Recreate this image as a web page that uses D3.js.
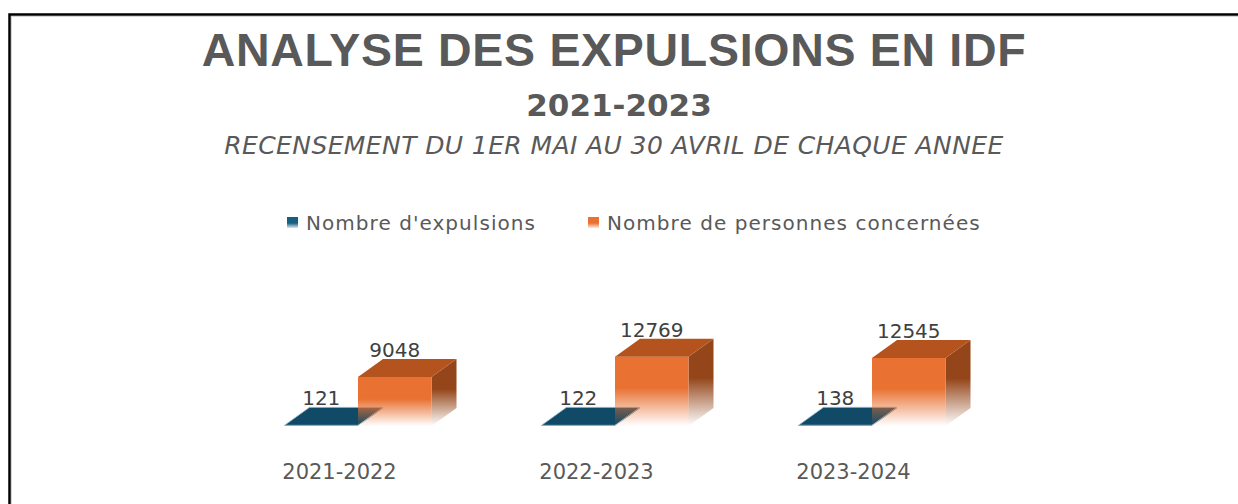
<!DOCTYPE html>
<html>
<head>
<meta charset="utf-8">
<script src="https://cdn.jsdelivr.net/npm/d3@7"></script>
<style>
  html, body { margin: 0; padding: 0; background: #fff; overflow: hidden; }
  #chart { width: 1238px; height: 504px; }
</style>
</head>
<body>
<div id="chart"></div>
<script>
// 3D clustered bars: expulsions in IDF

const categories = ["2021-2022", "2022-2023", "2023-2024"];
const seriesNames = ["Nombre d'expulsions", "Nombre de personnes concernées"];
const expulsions = [121, 122, 138];
const personnes = [9048, 12769, 12545];

const colors = {
    "Nombre d'expulsions": { front: "#156082", top: "#114a66", side: "#0d3a50" },
    "Nombre de personnes concernées": { front: "#e97132", top: "#b5531f", side: "#94461a" }
};

function drawChart() {
    const container = d3.select("#chart");
    container.selectAll("*").remove();

    const width = 1238;
    const height = 504;

    const svg = container.append("svg")
        .attr("width", width)
        .attr("height", height);

    const defs = svg.append("defs");

    // fading gradients (bars melt into the floor)
    seriesNames.forEach((s, i) => {
        ["front", "side"].forEach(face => {
            const g = defs.append("linearGradient")
                .attr("id", `grad-${i}-${face}`)
                .attr("x1", 0).attr("y1", 0).attr("x2", 0).attr("y2", 1);
            g.append("stop").attr("offset", "0%").attr("stop-color", colors[s][face]).attr("stop-opacity", 1);
            g.append("stop").attr("offset", "45%").attr("stop-color", colors[s][face]).attr("stop-opacity", 1);
            g.append("stop").attr("offset", "100%").attr("stop-color", colors[s][face]).attr("stop-opacity", 0);
        });
        const lg = defs.append("linearGradient")
            .attr("id", `grad-${i}-legend`)
            .attr("x1", 0).attr("y1", 0).attr("x2", 0).attr("y2", 1);
        lg.append("stop").attr("offset", "0%").attr("stop-color", colors[s].front).attr("stop-opacity", 1);
        lg.append("stop").attr("offset", "55%").attr("stop-color", colors[s].front).attr("stop-opacity", 1);
        lg.append("stop").attr("offset", "100%").attr("stop-color", colors[s].front).attr("stop-opacity", 0.15);
    });

    // frame
    svg.append("rect")
        .attr("x", 9.5).attr("y", 14.5)
        .attr("width", 1300).attr("height", 600)
        .attr("fill", "none")
        .attr("stroke", "#000")
        .attr("stroke-width", 2.5);
    svg.append("rect")
        .attr("x", 11.5).attr("y", 16.5)
        .attr("width", 1300).attr("height", 600)
        .attr("fill", "none")
        .attr("stroke", "#d4d4d4")
        .attr("stroke-width", 1);

    // titles
    const cx = 614;
    svg.append("text")
        .attr("x", cx).attr("y", 66)
        .attr("text-anchor", "middle")
        .style("font-family", "'Liberation Sans', Arial, sans-serif")
        .style("font-weight", "bold")
        .style("font-size", "46.5px")
        .style("letter-spacing", "0.7px")
        .style("fill", "#595959")
        .text("ANALYSE DES EXPULSIONS EN IDF");

    svg.append("text")
        .attr("x", cx + 5).attr("y", 116)
        .attr("text-anchor", "middle")
        .style("font-family", "'DejaVu Sans', sans-serif")
        .style("font-weight", "bold")
        .style("font-size", "31px")
        .style("fill", "#595959")
        .text("2021-2023");

    svg.append("text")
        .attr("x", cx).attr("y", 154)
        .attr("text-anchor", "middle")
        .style("font-family", "'DejaVu Sans', sans-serif")
        .style("font-style", "italic")
        .style("font-size", "25px")
        .style("letter-spacing", "0.4px")
        .style("fill", "#595959")
        .text("RECENSEMENT DU 1ER MAI AU 30 AVRIL DE CHAQUE ANNEE");

    // legend
    const legendX = [287, 588];
    const legend = svg.selectAll(".legend")
        .data(seriesNames)
        .enter()
        .append("g")
        .attr("class", "legend")
        .attr("transform", (d, i) => `translate(${legendX[i]}, 217)`);
    legend.append("rect")
        .attr("width", 11).attr("height", 11)
        .attr("fill", (d, i) => `url(#grad-${i}-legend)`);
    legend.append("text")
        .attr("x", 19).attr("y", 12.5)
        .style("font-family", "'DejaVu Sans', sans-serif")
        .style("font-size", "20px")
        .style("letter-spacing", "1.05px")
        .style("fill", "#595959")
        .text(d => d);

    // scales
    const x = d3.scaleBand()
        .domain(categories)
        .range([211, 982]);
    const xSeries = d3.scaleBand()
        .domain(seriesNames)
        .range([-55, 92]);
    const y = d3.scaleLinear()
        .domain([0, 14000])
        .range([426, 350]);

    const depthX = 25;
    const depthY = -18;

    const data = [];
    categories.forEach((c, ci) => {
        data.push({ cat: c, series: seriesNames[0], si: 0, value: expulsions[ci] });
        data.push({ cat: c, series: seriesNames[1], si: 1, value: personnes[ci] });
    });

    const bars = svg.selectAll(".bar")
        .data(data)
        .enter()
        .append("g")
        .attr("class", "bar");

    bars.each(function (d) {
        const g = d3.select(this);
        const x0 = x(d.cat) + x.bandwidth() / 2 + xSeries(d.series);
        const w = xSeries.bandwidth();
        const yTop = y(d.value);
        const yBase = y(0);

        // right side
        g.append("path")
            .attr("d", `M${x0 + w},${yTop} L${x0 + w + depthX},${yTop + depthY} L${x0 + w + depthX},${yBase + depthY} L${x0 + w},${yBase} Z`)
            .attr("fill", `url(#grad-${d.si}-side)`);
        // front
        g.append("rect")
            .attr("x", x0).attr("y", yTop)
            .attr("width", w).attr("height", Math.max(0, yBase - yTop))
            .attr("fill", `url(#grad-${d.si}-front)`);
        // top
        g.append("path")
            .attr("d", `M${x0},${yTop} L${x0 + depthX},${yTop + depthY} L${x0 + w + depthX},${yTop + depthY} L${x0 + w},${yTop} Z`)
            .attr("fill", colors[d.series].top)
            .attr("stroke", d.si === 0 ? "#a9c6d4" : "none")
            .attr("stroke-width", 0.8);

        g.append("text")
            .attr("x", x0 + w / 2)
            .attr("y", yTop + depthY - 2)
            .attr("text-anchor", "middle")
            .style("font-family", "'DejaVu Sans', sans-serif")
            .style("font-size", "20px")
            .style("fill", "#404040")
            .text(d.value);
    });

    // category labels
    svg.selectAll(".cat-label")
        .data(categories)
        .enter()
        .append("text")
        .attr("class", "cat-label")
        .attr("x", d => x(d) + x.bandwidth() / 2)
        .attr("y", 479)
        .attr("text-anchor", "middle")
        .style("font-family", "'DejaVu Sans', sans-serif")
        .style("font-size", "21px")
        .style("fill", "#595959")
        .text(d => d);
}

drawChart();
</script>
</body>
</html>
